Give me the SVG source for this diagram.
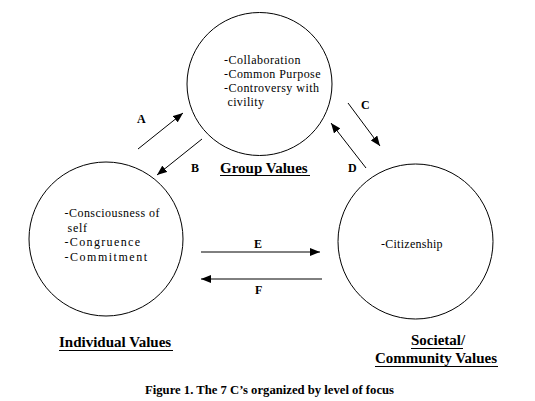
<svg xmlns="http://www.w3.org/2000/svg" width="535" height="401" viewBox="0 0 535 401">
<style>
.c{fill:none;stroke:#000;stroke-width:1}
.t{font-family:'Liberation Serif','Times New Roman',Times,serif;font-size:12px;fill:#000}
.h{font-family:'Liberation Serif','Times New Roman',Times,serif;font-size:15px;font-weight:bold;fill:#000}
.l{font-family:'Liberation Serif','Times New Roman',Times,serif;font-size:12px;font-weight:bold;fill:#000}
.u{stroke:#000;stroke-width:1}
.a{stroke:#000;stroke-width:1;fill:none;marker-end:url(#ah)}
</style>
<defs>
<marker id="ah" viewBox="0 0 10 8" refX="10" refY="4" markerWidth="10" markerHeight="8" markerUnits="userSpaceOnUse" orient="auto">
<path d="M0,0 L10,4 L0,8 z" fill="#000"/>
</marker>
</defs>
<rect width="535" height="401" fill="#fff"/>
<g id="group-values">
<ellipse class="c" cx="259.5" cy="84" rx="72.5" ry="71.5"/>
<text class="t" x="224" y="63.5" textLength="76.5">-Collaboration</text>
<text class="t" x="224" y="77.5" textLength="96.5">-Common Purpose</text>
<text class="t" x="224" y="91.5" textLength="95">-Controversy with</text>
<text class="t" x="227.5" y="105.5" textLength="36.5">civility</text>
<text class="h" x="220" y="173">Group Values</text>
<line class="u" x1="220" y1="175.5" x2="310" y2="175.5"/>
</g>
<g id="individual-values">
<circle class="c" cx="106" cy="239" r="77"/>
<text class="t" x="64.5" y="217" textLength="95">-Consciousness of</text>
<text class="t" x="67.5" y="231.5" textLength="19.5">self</text>
<text class="t" x="64.5" y="246" textLength="75.5">-Congruence</text>
<text class="t" x="64.5" y="260.5" textLength="82.5">-Commitment</text>
<text class="h" x="59" y="347">Individual Values</text>
<line class="u" x1="59" y1="350.5" x2="173" y2="350.5"/>
</g>
<g id="societal-values">
<circle class="c" cx="415.5" cy="241.5" r="77.5"/>
<text class="t" x="381" y="248" textLength="61.5">-Citizenship</text>
<text class="h" x="411" y="345">Societal/</text>
<line class="u" x1="411" y1="348.5" x2="463" y2="348.5"/>
<text class="h" x="375" y="363">Community Values</text>
<line class="u" x1="375" y1="366.5" x2="498" y2="366.5"/>
</g>
<g id="connectors">
<line class="a" x1="138" y1="149" x2="183" y2="113"/>
<line class="a" x1="202" y1="139" x2="157" y2="175"/>
<line class="a" x1="348" y1="103" x2="380" y2="146"/>
<line class="a" x1="366" y1="168" x2="331" y2="123"/>
<line class="a" x1="201" y1="252" x2="320" y2="252"/>
<line class="a" x1="322" y1="279" x2="201" y2="279"/>
<text class="l" x="137" y="123">A</text>
<text class="l" x="191" y="172">B</text>
<text class="l" x="361" y="109">C</text>
<text class="l" x="348" y="172">D</text>
<text class="l" x="254" y="248">E</text>
<text class="l" x="255" y="294">F</text>
</g>
<text class="l" x="145" y="394" textLength="249" lengthAdjust="spacingAndGlyphs">Figure 1. The 7 C’s organized by level of focus</text>
</svg>
